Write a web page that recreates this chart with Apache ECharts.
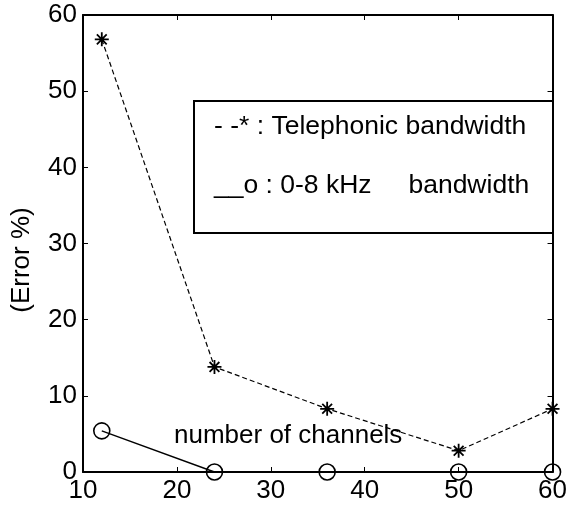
<!DOCTYPE html>
<html>
<head>
<meta charset="utf-8">
<script src="https://cdn.jsdelivr.net/npm/echarts@6/dist/echarts.min.js"></script>
<style>html,body{margin:0;padding:0;background:#fff}#c{width:570px;height:506px}</style>
</head>
<body>
<div id="c"></div>
<script>
const channels = [12, 24, 36, 50, 60];
const telephonicError = [56.8, 13.8, 8.3, 2.8, 8.3];
const wideBandError = [5.4, 0, 0, 0, 0];
const xTicks = [10, 20, 30, 40, 50, 60];
const yTicks = [0, 10, 20, 30, 40, 50, 60];
const legendLines = ['- -* : Telephonic bandwidth', '__o : 0-8 kHz     bandwidth'];
const xAxisTitle = 'number of channels';
const yAxisTitle = '(Error %)';

const FONT = 'Liberation Sans';
const FS = 26;
const star = 'path://M0,-6L0,6M-6,0L6,0M-4.2,-4.2L4.2,4.2M-4.2,4.2L4.2,-4.2';

function mkAxis(extra) {
  return Object.assign({
    axisLine: {show: true, onZero: false, lineStyle: {color: '#000', width: 2}},
    axisTick: {show: true, inside: true, length: 5, lineStyle: {color: '#000', width: 1}},
    splitLine: {show: false}
  }, extra);
}

const chart = echarts.init(document.getElementById('c'), null, {renderer: 'canvas'});
chart.setOption({
  animation: false,
  backgroundColor: '#fff',
  grid: {left: 83, right: 17, top: 15, bottom: 34, containLabel: false},
  xAxis: [
    mkAxis({
      type: 'value', min: xTicks[0], max: xTicks[xTicks.length - 1], interval: 10,
      position: 'bottom',
      axisLabel: {color: '#000', fontFamily: FONT, fontSize: FS, margin: 6}
    }),
    mkAxis({
      type: 'value', min: xTicks[0], max: xTicks[xTicks.length - 1], interval: 10,
      position: 'top', axisLabel: {show: false}
    })
  ],
  yAxis: [
    mkAxis({
      type: 'value', min: yTicks[0], max: yTicks[yTicks.length - 1], interval: 10,
      position: 'left',
      axisLabel: {color: '#000', fontFamily: FONT, fontSize: FS, margin: 6}
    }),
    mkAxis({
      type: 'value', min: yTicks[0], max: yTicks[yTicks.length - 1], interval: 10,
      position: 'right', axisLabel: {show: false}
    })
  ],
  series: [
    {
      type: 'line', name: 'Telephonic bandwidth', clip: false,
      data: channels.map((c, i) => [c, telephonicError[i]]),
      symbol: star, symbolSize: 14,
      lineStyle: {color: '#000', width: 1.2, type: [5, 3]},
      itemStyle: {color: 'rgba(0,0,0,0)', borderColor: '#000', borderWidth: 1.8},
      z: 3
    },
    {
      type: 'line', name: '0-8 kHz bandwidth', clip: false,
      data: channels.map((c, i) => [c, wideBandError[i]]),
      symbol: 'circle', symbolSize: 16,
      lineStyle: {color: '#000', width: 1.4},
      itemStyle: {color: 'rgba(0,0,0,0)', borderColor: '#000', borderWidth: 1.6},
      z: 4
    }
  ],
  graphic: [
    {type: 'rect', left: 193, top: 100, shape: {width: 359, height: 132},
     style: {fill: '#fff', stroke: '#000', lineWidth: 2}, z: 10},
    {type: 'text', left: 214, top: 113, z: 11,
     style: {text: legendLines[0], fill: '#000', font: '26.5px "' + FONT + '"'}},
    {type: 'text', left: 214, top: 172, z: 11,
     style: {text: legendLines[1], fill: '#000', font: '26.5px "' + FONT + '"'}},
    {type: 'text', left: 174, top: 423, z: 11,
     style: {text: xAxisTitle, fill: '#000', font: FS + 'px "' + FONT + '"'}},
    {type: 'text', x: 22, y: 260, rotation: Math.PI / 2, z: 11,
     style: {text: yAxisTitle, fill: '#000', font: FS + 'px "' + FONT + '"',
             align: 'center', verticalAlign: 'middle'}}
  ]
});
</script>
</body>
</html>
